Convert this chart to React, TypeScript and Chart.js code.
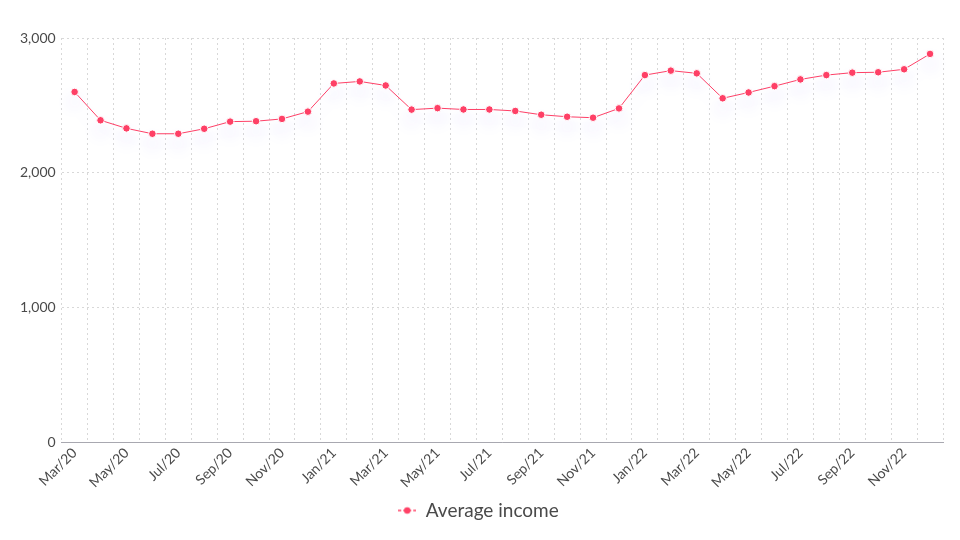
import { useEffect, useRef } from "react";
import { Chart, ChartConfiguration, Plugin, registerables } from "chart.js";
Chart.register(...registerables);

const months = [
  "Mar/20", "Apr/20", "May/20", "Jun/20", "Jul/20", "Aug/20", "Sep/20", "Oct/20", "Nov/20", "Dec/20",
  "Jan/21", "Feb/21", "Mar/21", "Apr/21", "May/21", "Jun/21", "Jul/21", "Aug/21", "Sep/21", "Oct/21",
  "Nov/21", "Dec/21", "Jan/22", "Feb/22", "Mar/22", "Apr/22", "May/22", "Jun/22", "Jul/22", "Aug/22",
  "Sep/22", "Oct/22", "Nov/22", "Dec/22",
];

const averageIncome = [
  2600, 2390, 2330, 2290, 2290, 2327, 2380, 2383, 2400, 2454,
  2663, 2678, 2648, 2469, 2480, 2470, 2470, 2459, 2431, 2416,
  2409, 2478, 2725, 2758, 2738, 2553, 2596, 2643, 2693, 2725,
  2743, 2746, 2768, 2882,
];

const yTicks = [0, 1000, 2000, 3000];

const lineColor = "#ff4166";
const textColor = "#4a4a4a";
const gridColor = "#d8d8d8";
const fontFamily = "Lato, 'Open Sans', sans-serif";

// small "-•-" marker for the legend
const makeLegendMarker = () => {
  const c = document.createElement("canvas");
  c.width = 18;
  c.height = 10;
  const ctx = c.getContext("2d")!;
  ctx.strokeStyle = lineColor;
  ctx.lineWidth = 1.5;
  ctx.setLineDash([3, 2]);
  ctx.beginPath();
  ctx.moveTo(0, 5);
  ctx.lineTo(18, 5);
  ctx.stroke();
  ctx.setLineDash([]);
  ctx.fillStyle = lineColor;
  ctx.beginPath();
  ctx.arc(9, 5, 3.2, 0, Math.PI * 2);
  ctx.fill();
  return c;
};

// soft lavender glow below the line
const glowPlugin: Plugin<"line"> = {
  id: "glow",
  beforeDatasetDraw(chart) {
    const ctx = chart.ctx;
    ctx.save();
    ctx.shadowColor = "rgba(130, 110, 255, 0.18)";
    ctx.shadowBlur = 16;
    ctx.shadowOffsetY = 10;
  },
  afterDatasetDraw(chart) {
    chart.ctx.restore();
  },
};

const App = () => {
  const ref = useRef<HTMLCanvasElement>(null);

  useEffect(() => {
    document.body.style.margin = "0";
    const marker = makeLegendMarker();
    const config: ChartConfiguration<"line"> = {
      type: "line",
      data: {
        labels: months,
        datasets: [
          {
            label: "Average income",
            data: averageIncome,
            borderColor: lineColor,
            backgroundColor: lineColor,
            borderWidth: 1,
            pointStyle: "circle",
            pointRadius: 3.8,
            pointBorderColor: "#ffffff",
            pointBorderWidth: 1,
            pointBackgroundColor: lineColor,
            tension: 0,
            fill: false,
          },
        ],
      },
      options: {
        animation: false,
        responsive: true,
        maintainAspectRatio: false,
        layout: { padding: { top: 38, right: 17, left: 14, bottom: 10 } },
        scales: {
          x: {
            offset: true,
            grid: {
              offset: true,
              color: gridColor,
              drawTicks: false,
            },
            border: { color: "#a8a8b0", dash: [2, 3] },
            ticks: {
              color: textColor,
              font: { family: fontFamily, size: 14 },
              maxRotation: 45,
              minRotation: 45,
              autoSkip: false,
              callback: (_v, i) => (i % 2 === 0 ? months[i] : ""),
              padding: 2,
            },
          },
          y: {
            min: 0,
            max: 3000,
            afterBuildTicks: (axis) => {
              axis.ticks = yTicks.map((v) => ({ value: v }));
            },
            grid: { color: gridColor, drawTicks: false },
            border: { display: false, dash: [2, 3] },
            ticks: {
              color: textColor,
              font: { family: fontFamily, size: 14 },
              padding: 6,
              callback: (v) => Number(v).toLocaleString("en-US"),
            },
          },
        },
        plugins: {
          legend: {
            position: "bottom",
            labels: {
              color: textColor,
              font: { family: fontFamily, size: 19 },
              usePointStyle: true,
              pointStyleWidth: 18,
              padding: 8,
              generateLabels: (chart) =>
                chart.data.datasets.map((ds, i) => ({
                  text: ds.label as string,
                  pointStyle: marker,
                  fillStyle: lineColor,
                  strokeStyle: lineColor,
                  lineWidth: 0,
                  fontColor: textColor,
                  hidden: false,
                  datasetIndex: i,
                })),
            },
          },
          tooltip: { enabled: false },
        },
      },
      plugins: [glowPlugin],
    };
    const chart = new Chart(ref.current!, config);
    return () => {
      chart.destroy();
    };
  }, []);

  return (
    <div style={{ position: "relative", width: 960, height: 540 }}>
      <canvas ref={ref}></canvas>
    </div>
  );
};

export default App;
